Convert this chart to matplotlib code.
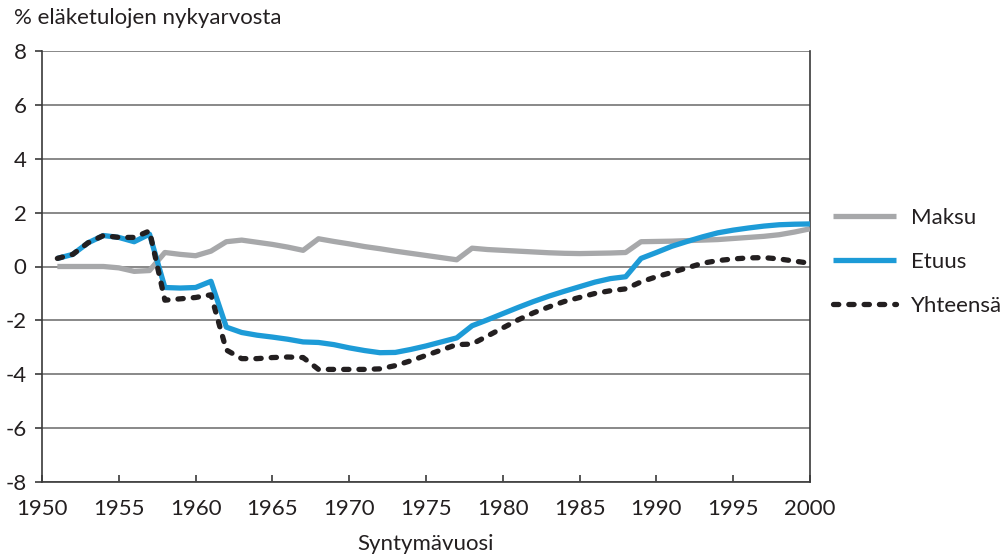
import matplotlib
matplotlib.use("Agg")
import matplotlib.pyplot as plt

years = list(range(1951, 2001))

maksu = [0.0, 0.0, 0.0, 0.0, -0.05, -0.18, -0.15, 0.52, 0.45, 0.40,
         0.57, 0.92, 0.98, 0.90, 0.82, 0.72, 0.60, 1.03, 0.93, 0.84,
         0.74, 0.66, 0.57, 0.49, 0.41, 0.33, 0.25, 0.68, 0.63, 0.60,
         0.57, 0.54, 0.51, 0.49, 0.48, 0.49, 0.50, 0.52, 0.92, 0.93,
         0.94, 0.96, 0.98, 1.00, 1.04, 1.08, 1.12, 1.18, 1.28, 1.40]

etuus = [0.30, 0.45, 0.88, 1.15, 1.08, 0.92, 1.20, -0.78, -0.80, -0.78,
         -0.55, -2.25, -2.45, -2.55, -2.62, -2.70, -2.80, -2.82, -2.90, -3.02,
         -3.12, -3.20, -3.19, -3.08, -2.95, -2.80, -2.65, -2.20, -1.98, -1.75,
         -1.52, -1.30, -1.10, -0.92, -0.75, -0.58, -0.45, -0.38, 0.30, 0.52,
         0.75, 0.93, 1.10, 1.25, 1.35, 1.43, 1.50, 1.55, 1.57, 1.58]

yhteensa = [0.30, 0.45, 0.88, 1.15, 1.08, 1.08, 1.32, -1.25, -1.20, -1.15,
            -1.05, -3.10, -3.42, -3.42, -3.38, -3.36, -3.38, -3.82, -3.82, -3.82,
            -3.82, -3.80, -3.68, -3.50, -3.30, -3.10, -2.90, -2.88, -2.58, -2.28,
            -1.98, -1.72, -1.50, -1.30, -1.15, -1.00, -0.90, -0.83, -0.57, -0.38,
            -0.22, -0.05, 0.12, 0.22, 0.28, 0.32, 0.33, 0.28, 0.20, 0.12]

series_names = ["Maksu", "Etuus", "Yhteensä"]
x_ticks = list(range(1950, 2001, 5))
y_ticks = list(range(-8, 9, 2))

plt.rcParams['font.family'] = ['Lato', 'DejaVu Sans']
text_color = '#231f20'
fs = 16

fig = plt.figure(figsize=(10.08, 5.58), dpi=100)
ax = fig.add_axes([42/1008, 1-482/558, (810-42)/1008, (482-51)/558])

ax.plot(years, maksu, color='#a7a8aa', lw=3.8, solid_capstyle='butt', label=series_names[0], zorder=3)
ax.plot(years, etuus, color='#1d9bd7', lw=3.8, solid_capstyle='butt', label=series_names[1], zorder=4)
ax.plot(years, yhteensa, color='#231f20', lw=3.8, linestyle=(0, (1.0, 1.9)), dash_capstyle='round',
        label=series_names[2], zorder=5)

ax.set_xlim(1950, 2000)
ax.set_ylim(-8, 8)
ax.set_xticks(x_ticks)
ax.set_yticks(y_ticks)
ax.set_yticklabels([str(v) for v in y_ticks])
ax.yaxis.grid(True, color='#7f7f7f', lw=1.3)
ax.set_axisbelow(True)
ax.spines['top'].set_visible(False)
for s in ['left', 'bottom', 'right']:
    ax.spines[s].set_color('#3a3a3a')
    ax.spines[s].set_linewidth(1.2)
ax.tick_params(axis='x', direction='in', length=5, width=1.2, color='#3a3a3a',
               labelsize=fs, labelcolor=text_color, pad=12)
ax.tick_params(axis='y', direction='out', length=5, width=1.2, color='#3a3a3a',
               labelsize=fs, labelcolor=text_color, pad=6)

fig.text(14/1008, 1-18/558, "% eläketulojen nykyarvosta", fontsize=fs, color=text_color,
         ha='left', va='center')
fig.text(426/1008, 1-544/558, "Syntymävuosi", fontsize=fs, color=text_color,
         ha='center', va='center')

leg = fig.legend(loc='upper left', bbox_to_anchor=(833/1008, 1-208/558), frameon=False, fontsize=fs,
                 handlelength=2.85, handletextpad=0.68, labelspacing=1.07, borderaxespad=0,
                 borderpad=0)
for t in leg.get_texts():
    t.set_color(text_color)

fig.savefig("out.png", dpi=100)
